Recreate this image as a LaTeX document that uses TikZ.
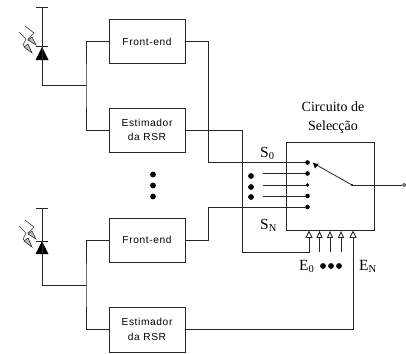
\documentclass[tikz,border=0pt]{standalone}
\usepackage{fontspec}
\usetikzlibrary{calc}
\setmainfont{Liberation Serif}
\newfontfamily\boxfont[LetterSpace=6]{Liberation Sans}
\newcommand{\subtxt}[1]{\raisebox{-2.5pt}{\fontsize{10.5}{12}\selectfont #1}}
\begin{document}
\begin{tikzpicture}[x=1pt,y=-1pt,
  wire/.style={draw=black!85,line width=1pt,line join=miter},
  block/.style={draw=black!85,line width=1pt,minimum width=76pt,inner sep=0pt,align=center,font=\boxfont\fontsize{10.2}{14.5}\selectfont},
  lab/.style={inner sep=0pt,font=\fontsize{14}{19}\selectfont,align=center},
  biglab/.style={inner sep=0pt,font=\fontsize{15.5}{19}\selectfont},
  bigdot/.style={circle,fill=black,inner sep=0pt,minimum size=5.8pt},
  smalldot/.style={circle,fill=black,inner sep=0pt,minimum size=3.6pt},
  tinydot/.style={circle,fill=black,inner sep=0pt,minimum size=4.6pt},
  tri/.style={draw=black!85,fill=white,line width=0.9pt},
  photon/.style={draw=black!80,line width=0.6pt},
  phead/.style={draw=black!80,fill=black!25,line width=0.6pt}]
\useasboundingbox (0,0) rectangle (406,353);
% blocks
\node[block,minimum height=43pt] (fe1) at (147,41.5) {Front-end};
\node[block,minimum height=44pt] (rs1) at (147,130) {Estimador\\da RSR};
\node[block,minimum height=44pt] (fe2) at (147,240) {Front-end};
\node[block,minimum height=45pt] (rs2) at (147,329.5) {Estimador\\da RSR};
\node[draw=black!85,line width=1pt,minimum width=88pt,minimum height=88pt,inner sep=0pt] (sel) at (330,186) {};
% diodes
\foreach \n/\t/\b/\y in {a/8/47/85,b/208/241/285}{
  \coordinate (top\n) at (42,\t);
  \coordinate (bar\n) at (42,\b);
  \coordinate (bot\n) at (42,\y);
  \coordinate (jn\n) at (86,\y);
  \draw[wire] (35.5,\t) -- (48,\t);
  \draw[wire] (top\n) -- (bar\n);
  \draw[wire] (35.5,\b) -- (48,\b);
  \fill[black] (42,\b) -- (48.5,\b+13) -- (35.5,\b+13) -- cycle;
  \draw[wire] (bar\n) -- (bot\n) -- (jn\n);
  % light arrows
  \draw[photon] (19,\b-15) -- (26,\b-8) -- (23,\b-2) -- (27,\b+2);
  \draw[photon] (25,\b-21) -- (34,\b-14) -- (28,\b-8) -- (30,\b-6);
  \draw[phead] (36,\b-2) -- (28,\b-7) -- (32,\b-10) -- cycle;
  \draw[phead] (32,\b+6) -- (24,\b) -- (28,\b-3) -- cycle;
}
\draw[wire] (fe1.west) -- (86,41.5) -- (jna) -- (86,130) -- (rs1.west);
\draw[wire] (fe2.west) -- (86,240) -- (jnb) -- (86,329.5) -- (rs2.west);
% selector inputs
\node[tinydot] (i0) at (307.5,162.5) {};
\node[tinydot] (i1) at (307.5,173.5) {};
\node[smalldot] (i2) at (307.5,185) {};
\node[tinydot] (i3) at (307.5,196) {};
\node[tinydot] (i4) at (307.5,207) {};
\coordinate (s1) at (263,173.5);
\coordinate (s2) at (263,185);
\coordinate (s3) at (263,196);
\draw[wire] (fe1.east) -- (208,41.5) -- (208,162.5) -- (i0);
\draw[wire] (fe2.east) -- (208,240) -- (208,207) -- (i4);
\draw[wire] (s1) -- (i1);
\draw[wire] (s2) -- (i2);
\draw[wire] (s3) -- (i3);
% switch
\coordinate (pivot) at (352,185);
\coordinate (arm) at (313,163);
\node[circle,draw=black!85,fill=white,line width=0.7pt,inner sep=0pt,minimum size=3pt] (out) at (404,185) {};
\draw[wire,line width=0.8pt] (pivot) -- (arm);
\fill[black] (313,163) -- (318.5,164) -- (315,168.5) -- cycle;
\draw[wire] (pivot) -- (out);
\fill[black] (pivot) circle (1.2pt);
% enable inputs
\foreach \n/\x in {e0/309,e1/319.5,e2/330,e3/341,e4/353}{
  \coordinate (\n) at (\x,237);
}
\coordinate (f1) at (319.5,252);
\coordinate (f2) at (330,252);
\coordinate (f3) at (341,252);
\draw[wire] (rs1.east) -- (242,130) -- (242,252) -- (309,252) -- (e0);
\draw[wire] (rs2.east) -- (353,329.5) -- (e4);
\draw[wire] (f1) -- (e1);
\draw[wire] (f2) -- (e2);
\draw[wire] (f3) -- (e3);
\foreach \n in {e0,e4}{
  \draw[tri] ($(\n)+(-3,0.5)$) -- ($(\n)+(0,-5.5)$) -- ($(\n)+(3,0.5)$) -- cycle;
}
\foreach \n in {e1,e2,e3}{
  \draw[tri] ($(\n)+(-2.5,0.5)$) -- ($(\n)+(0,-5)$) -- ($(\n)+(2.5,0.5)$) -- cycle;
}
% dots
\node[bigdot] (d1) at (153,174.5) {};
\node[bigdot] (d2) at (153,185.5) {};
\node[bigdot] (d3) at (153,196.5) {};
\node[bigdot] (d4) at (251,176) {};
\node[bigdot] (d5) at (251,187) {};
\node[bigdot] (d6) at (251,197) {};
\node[bigdot] (d7) at (323,266) {};
\node[bigdot] (d8) at (331,266) {};
\node[bigdot] (d9) at (339,266) {};
% labels
\node[lab] (title) at (333,118) {Circuito de\\Selecção};
\node[biglab,anchor=base west] (s0) at (260,157) {S\subtxt{0}};
\node[biglab,anchor=base west] (sn) at (260,229) {S\subtxt{N}};
\node[biglab,anchor=base west] (e0l) at (299,270) {E\subtxt{0}};
\node[biglab,anchor=base west] (enl) at (359,270) {E\subtxt{N}};
\end{tikzpicture}
\end{document}
